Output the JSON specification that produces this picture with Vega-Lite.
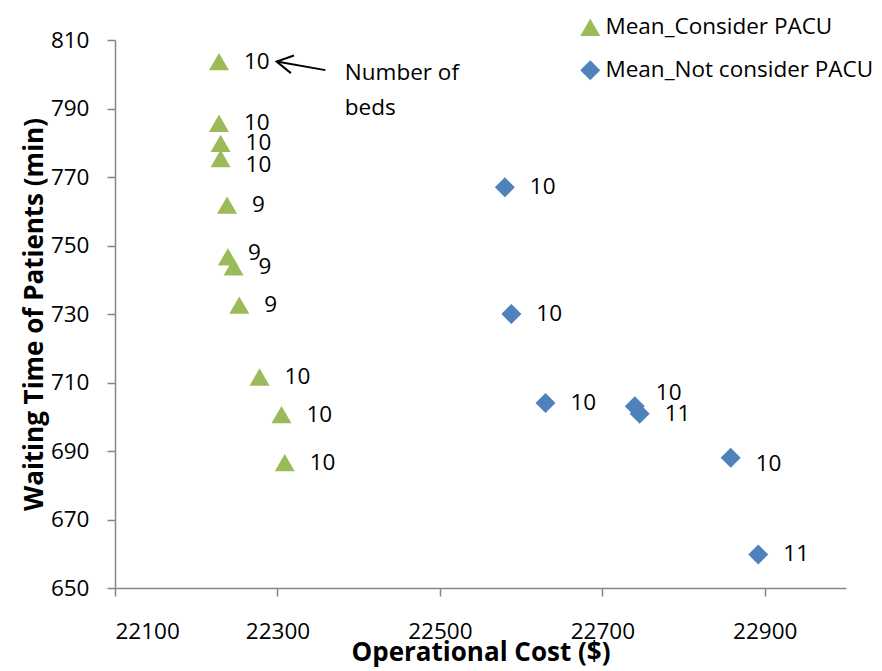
{
  "$schema": "https://vega.github.io/schema/vega-lite/v6.json",
  "width": 731,
  "height": 548,
  "autosize": {"type": "none"},
  "padding": {"left": 115, "top": 40, "right": 36, "bottom": 83},
  "background": "white",
  "config": {
    "font": "Open Sans",
    "view": {"stroke": null},
    "axis": {
      "grid": false,
      "domainColor": "#868686",
      "domainWidth": 1.5,
      "tickColor": "#868686",
      "tickWidth": 1.5,
      "tickSize": 8,
      "labelFont": "Open Sans",
      "labelFontSize": 22.5,
      "labelColor": "#000000",
      "titleFont": "Open Sans",
      "titleFontWeight": "bold",
      "titleFontSize": 26,
      "titleColor": "#000000"
    }
  },
  "datasets": {
    "runs": [
      {"series": "Mean_Consider PACU", "cost": 22228, "wait": 803.7, "beds": 10},
      {"series": "Mean_Consider PACU", "cost": 22228, "wait": 785.7, "beds": 10},
      {"series": "Mean_Consider PACU", "cost": 22230, "wait": 779.8, "beds": 10},
      {"series": "Mean_Consider PACU", "cost": 22230, "wait": 775.4, "beds": 10},
      {"series": "Mean_Consider PACU", "cost": 22238, "wait": 761.8, "beds": 9},
      {"series": "Mean_Consider PACU", "cost": 22239, "wait": 746.7, "beds": 9},
      {"series": "Mean_Consider PACU", "cost": 22246, "wait": 743.8, "beds": 9},
      {"series": "Mean_Consider PACU", "cost": 22253, "wait": 732.6, "beds": 9},
      {"series": "Mean_Consider PACU", "cost": 22278, "wait": 711.6, "beds": 10},
      {"series": "Mean_Consider PACU", "cost": 22305, "wait": 700.6, "beds": 10},
      {"series": "Mean_Consider PACU", "cost": 22309, "wait": 686.6, "beds": 10},
      {"series": "Mean_Not consider PACU", "cost": 22580, "wait": 767.0, "beds": 10},
      {"series": "Mean_Not consider PACU", "cost": 22588, "wait": 730.0, "beds": 10},
      {"series": "Mean_Not consider PACU", "cost": 22630, "wait": 704.0, "beds": 10},
      {"series": "Mean_Not consider PACU", "cost": 22740, "wait": 703.1, "beds": 10},
      {"series": "Mean_Not consider PACU", "cost": 22746, "wait": 700.9, "beds": 11},
      {"series": "Mean_Not consider PACU", "cost": 22858, "wait": 688.0, "beds": 10},
      {"series": "Mean_Not consider PACU", "cost": 22892, "wait": 659.8, "beds": 11}
    ],
    "note": [
      {"cost": 22383, "wait": 798.3, "cost2": 22299, "wait2": 803.7, "tailCost": 22359, "tailWait": 801.2, "text": "Number of\nbeds"}
    ]
  },
  "layer": [
    {
      "data": {"name": "runs"},
      "mark": {"type": "point", "filled": true, "opacity": 1, "size": 400, "strokeWidth": 0},
      "encoding": {
        "x": {
          "field": "cost", "type": "quantitative",
          "scale": {"domain": [22100, 23000], "nice": false, "zero": false},
          "axis": {
            "values": [22100, 22300, 22500, 22700, 22900],
            "format": "d",
            "labelPadding": 24,
            "title": "Operational Cost ($)",
            "titleBaseline": "alphabetic",
            "titleY": 72
          }
        },
        "y": {
          "field": "wait", "type": "quantitative",
          "scale": {"domain": [650, 810], "nice": false, "zero": false},
          "axis": {
            "values": [650, 670, 690, 710, 730, 750, 770, 790, 810],
            "labelPadding": 18,
            "title": "Waiting Time of Patients (min)",
            "titleBaseline": "alphabetic",
            "titleX": -73,
            "titleY": 274,
            "titleAngle": -90
          }
        },
        "color": {
          "field": "series", "type": "nominal",
          "scale": {"domain": ["Mean_Consider PACU", "Mean_Not consider PACU"], "range": ["#9BBB59", "#4F81BD"]},
          "legend": {
            "title": null,
            "orient": "none",
            "legendX": 464,
            "legendY": -24,
            "padding": 0,
            "offset": 0,
            "symbolSize": 400,
            "symbolStrokeWidth": 0,
            "labelFont": "Open Sans",
            "labelFontSize": 22.5,
            "labelColor": "#000000",
            "labelOffset": 4,
            "labelLimit": 400,
            "rowPadding": 20
          }
        },
        "shape": {
          "field": "series", "type": "nominal",
          "scale": {"domain": ["Mean_Consider PACU", "Mean_Not consider PACU"], "range": ["triangle-up", "diamond"]}
        }
      }
    },
    {
      "data": {"name": "runs"},
      "transform": [{"filter": "datum.wait != 775.4 && datum.wait != 746.7 && datum.wait != 703.1 && datum.wait != 688.0"}],
      "mark": {"type": "text", "align": "left", "baseline": "middle", "dx": 25, "fontSize": 22.5, "color": "#000000"},
      "encoding": {
        "x": {"field": "cost", "type": "quantitative"},
        "y": {"field": "wait", "type": "quantitative"},
        "text": {"field": "beds", "type": "quantitative"}
      }
    },
    {
      "data": {"name": "runs"},
      "transform": [{"filter": "datum.wait == 775.4 || datum.wait == 688.0"}],
      "mark": {"type": "text", "align": "left", "baseline": "middle", "dx": 25, "dy": 6, "fontSize": 22.5, "color": "#000000"},
      "encoding": {
        "x": {"field": "cost", "type": "quantitative"},
        "y": {"field": "wait", "type": "quantitative"},
        "text": {"field": "beds", "type": "quantitative"}
      }
    },
    {
      "data": {"name": "runs"},
      "transform": [{"filter": "datum.wait == 746.7"}],
      "mark": {"type": "text", "align": "left", "baseline": "middle", "dx": 20, "dy": -4, "fontSize": 22.5, "color": "#000000"},
      "encoding": {
        "x": {"field": "cost", "type": "quantitative"},
        "y": {"field": "wait", "type": "quantitative"},
        "text": {"field": "beds", "type": "quantitative"}
      }
    },
    {
      "data": {"name": "runs"},
      "transform": [{"filter": "datum.wait == 703.1"}],
      "mark": {"type": "text", "align": "left", "baseline": "middle", "dx": 21, "dy": -13, "fontSize": 22.5, "color": "#000000"},
      "encoding": {
        "x": {"field": "cost", "type": "quantitative"},
        "y": {"field": "wait", "type": "quantitative"},
        "text": {"field": "beds", "type": "quantitative"}
      }
    },
    {
      "data": {"name": "note"},
      "mark": {"type": "rule", "color": "#000000", "strokeWidth": 2},
      "encoding": {
        "x": {"field": "tailCost", "type": "quantitative"},
        "y": {"field": "tailWait", "type": "quantitative"},
        "x2": {"field": "cost2"},
        "y2": {"field": "wait2"}
      }
    },
    {
      "data": {"name": "note"},
      "mark": {"type": "point", "shape": "M1,-0.56L0,0L1,0.56", "size": 1024, "filled": false, "stroke": "#000000", "strokeWidth": 2, "opacity": 1, "angle": 9.75},
      "encoding": {
        "x": {"field": "cost2", "type": "quantitative"},
        "y": {"field": "wait2", "type": "quantitative"}
      }
    },
    {
      "data": {"name": "note"},
      "mark": {"type": "text", "align": "left", "baseline": "alphabetic", "fontSize": 22.5, "lineHeight": 35, "lineBreak": "\n", "color": "#000000"},
      "encoding": {
        "x": {"field": "cost", "type": "quantitative"},
        "y": {"field": "wait", "type": "quantitative"},
        "text": {"field": "text"}
      }
    }
  ]
}
